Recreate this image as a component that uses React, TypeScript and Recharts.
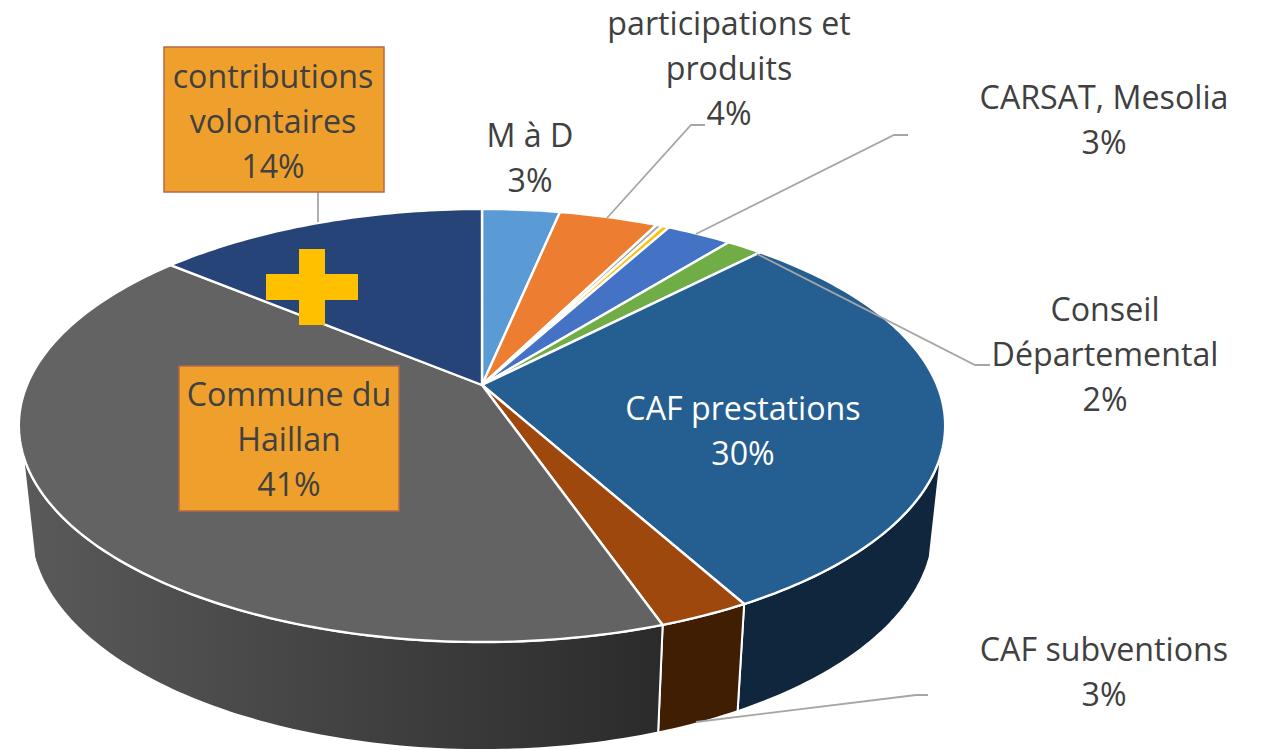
import React from "react";
import { PieChart, Pie } from "recharts";

const categories = [
  "M à D",
  "participations et produits",
  "autres",
  "divers",
  "CARSAT, Mesolia",
  "Conseil Départemental",
  "CAF prestations",
  "CAF subventions",
  "Commune du Haillan",
  "contributions volontaires",
];
const shares = [3.25, 4.14, 0.25, 0.3, 2.74, 1.52, 29.8, 2.7, 41.4, 13.9];
const topColors = [
  "#5B9BD5",
  "#ED7D31",
  "#A5A5A5",
  "#FFC000",
  "#4472C4",
  "#70AD47",
  "#255E91",
  "#9E480E",
  "#636363",
  "#264478",
];
const wallColors = [
  "#2C4F6E",
  "#76400F",
  "#555555",
  "#7F6000",
  "#223962",
  "#385723",
  "#0F263D",
  "#401E04",
  "url(#communeWall)",
  "#132238",
];

const rows = categories.map((name, i) => ({
  name,
  value: shares[i],
  fill: topColors[i],
  wall: wallColors[i],
}));

// Label placement, keyed by slice index
type Layout = {
  lines: string[];
  x: number;
  y: number;
  color?: string;
  box?: number[];
  leader?: string;
};
const layouts: Record<number, Layout> = {
  0: { lines: ["M à D"], x: 530, y: 135 },
  1: {
    lines: ["participations et", "produits"],
    x: 729,
    y: 23,
    leader: "M607 218 L691 125 L705 125",
  },
  4: {
    lines: ["CARSAT, Mesolia"],
    x: 1104,
    y: 97,
    leader: "M696 234 L894 135 L908 135",
  },
  5: {
    lines: ["Conseil", "Départemental"],
    x: 1105,
    y: 309,
    leader: "M757 254 L975 365 L990 365",
  },
  6: { lines: ["CAF prestations"], x: 743, y: 408, color: "#FFFFFF" },
  7: {
    lines: ["CAF subventions"],
    x: 1104,
    y: 649,
    leader: "M696 722 L916 695 L928 695",
  },
  8: { lines: ["Commune du", "Haillan"], x: 289, y: 394, box: [179, 366, 220, 145] },
  9: {
    lines: ["contributions", "volontaires"],
    x: 273,
    y: 76,
    box: [164, 47, 220, 145],
    leader: "M318 192 L318 222",
  },
};

const FONT = "'Open Sans', sans-serif";
const FONT_SIZE = 32.2;
const LINE_HEIGHT = 45;

// Perspective of the disc: the centre sits above the middle of the ellipse
const TILT = -0.187;
const SQUASH = 209;
const WALL_FROM = 108;
const WALL_TO = 252;

const project = (cx: number, cy: number, r: number, deg: number) => {
  const rad = (deg * Math.PI) / 180;
  const u = Math.sin(rad);
  const v = -Math.cos(rad);
  const d = 1 + TILT * v;
  return { x: cx + (r * u) / d, y: cy + (SQUASH * v) / d, v };
};

const arc = (cx: number, cy: number, r: number, from: number, to: number) => {
  const n = Math.max(2, Math.ceil(to - from));
  return Array.from({ length: n + 1 }, (_, i) =>
    project(cx, cy, r, from + ((to - from) * i) / n)
  );
};

const TopSlice = (props: any) => {
  const { cx, cy, outerRadius, startAngle, endAngle, fill } = props;
  const pts = arc(cx, cy, outerRadius, 90 - startAngle, 90 - endAngle);
  const d =
    `M${cx} ${cy} ` + pts.map((p) => `L${p.x} ${p.y}`).join(" ") + " Z";
  return <path d={d} fill={fill} stroke="#FFFFFF" strokeWidth={2.4} strokeLinejoin="round" />;
};

const WallSlice = (props: any) => {
  const { cx, cy, outerRadius, startAngle, endAngle, wall } = props;
  const from = Math.max(90 - startAngle, WALL_FROM);
  const to = Math.min(90 - endAngle, WALL_TO);
  if (to <= from) return null;
  const top = arc(cx, cy, outerRadius, from, to);
  const bottom = top
    .map((p) => ({
      x: cx + (p.x - cx) * 0.975,
      y: p.y + 101 + 7 * p.v,
    }))
    .reverse();
  const d =
    [...top, ...bottom]
      .map((p, i) => `${i === 0 ? "M" : "L"}${p.x} ${p.y}`)
      .join(" ") + " Z";
  return <path d={d} fill={wall} stroke="#FFFFFF" strokeWidth={2} strokeLinejoin="round" />;
};

const renderLabel = (props: any) => {
  const layout = layouts[props.index];
  if (!layout) return null;
  const lines = [...layout.lines, `${Math.round(props.value)}%`];
  return (
    <g>
      {layout.leader && (
        <path d={layout.leader} fill="none" stroke="#A6A6A6" strokeWidth={1.8} />
      )}
      {layout.box && (
        <rect
          x={layout.box[0]}
          y={layout.box[1]}
          width={layout.box[2]}
          height={layout.box[3]}
          fill="#EFA02C"
          stroke="#B4694A"
          strokeWidth={1.5}
        />
      )}
      {props.index === 9 && (
        <path
          d="M299 249 H325 V274 H358 V300 H325 V325 H299 V300 H266 V274 H299 Z"
          fill="#FFC000"
        />
      )}
      {lines.map((line, i) => (
        <text
          key={i}
          x={layout.x}
          y={layout.y + i * LINE_HEIGHT}
          dy="0.36em"
          textAnchor="middle"
          fontFamily={FONT}
          fontSize={FONT_SIZE}
          fill={layout.color ?? "#404040"}
        >
          {line}
        </text>
      ))}
    </g>
  );
};

export default function App() {
  return (
    <div style={{ position: "absolute", left: 0, top: 0, width: 1268, height: 750, background: "#FFFFFF" }}>
      <PieChart width={1268} height={750} margin={{ top: 0, right: 0, bottom: 0, left: 0 }}>
        <defs>
          <linearGradient id="communeWall" gradientUnits="userSpaceOnUse" x1="21" y1="0" x2="660" y2="0">
            <stop offset="0%" stopColor="#5A5A5A" />
            <stop offset="100%" stopColor="#2B2B2B" />
          </linearGradient>
        </defs>
        <Pie
          data={rows}
          dataKey="value"
          cx={482}
          cy={385}
          outerRadius={455}
          startAngle={90}
          endAngle={-270}
          shape={WallSlice}
          isAnimationActive={false}
          label={false}
          labelLine={false}
        />
        <Pie
          data={rows}
          dataKey="value"
          cx={482}
          cy={385}
          outerRadius={455}
          startAngle={90}
          endAngle={-270}
          shape={TopSlice}
          isAnimationActive={false}
          label={renderLabel}
          labelLine={false}
        />
      </PieChart>
    </div>
  );
}
